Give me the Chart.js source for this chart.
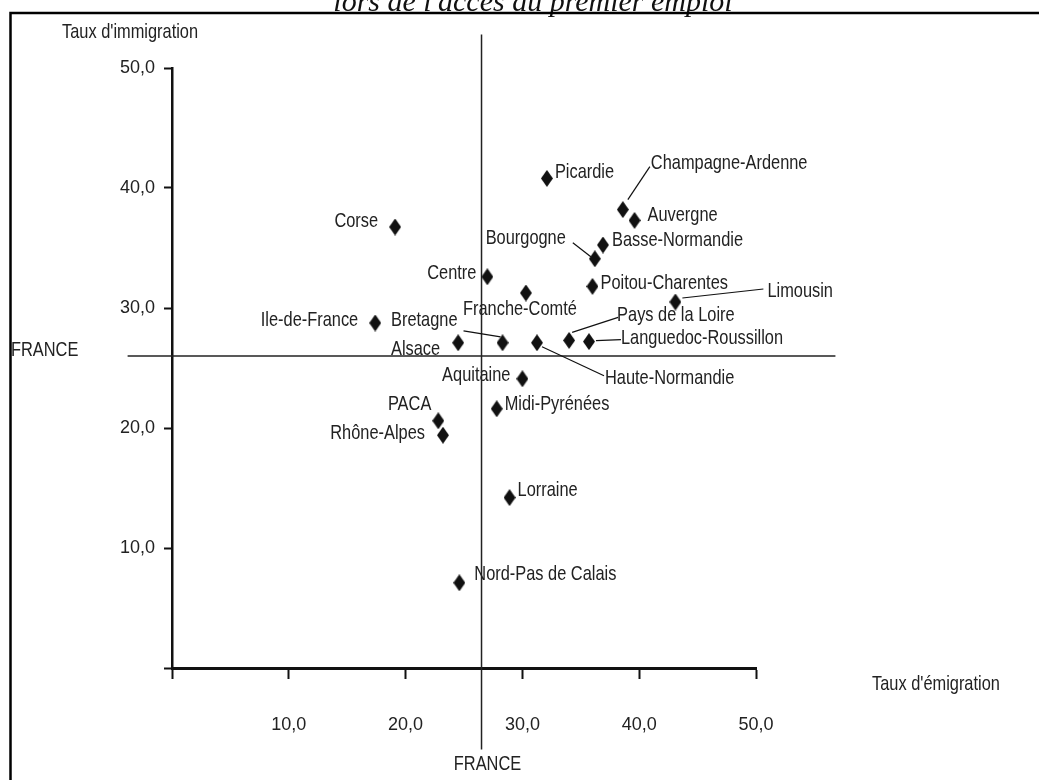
<!DOCTYPE html>
<html>
<head>
<meta charset="utf-8">
<script src="https://cdn.jsdelivr.net/npm/chart.js@4.4.0/dist/chart.umd.min.js"></script>
<style>
html, body { margin: 0; padding: 0; background: #fff; }
#wrap { position: relative; width: 1039px; height: 780px; }
</style>
</head>
<body>
<div id="wrap"><canvas id="mobilite"></canvas></div>
<script>
"use strict";

// regions, taux d'emigration (x) and taux d'immigration (y)
var regions = [
    'Picardie', 'Champagne-Ardenne', 'Auvergne', 'Corse', 'Basse-Normandie',
    'Bourgogne', 'Centre', 'Poitou-Charentes', 'Franche-Comté', 'Limousin',
    'Ile-de-France', 'Pays de la Loire', 'Languedoc-Roussillon', 'Alsace',
    'Bretagne', 'Haute-Normandie', 'Aquitaine', 'Midi-Pyrénées', 'PACA',
    'Rhône-Alpes', 'Lorraine', 'Nord-Pas de Calais'
];
var emigration = [
    32.1, 38.6, 39.6, 19.1, 36.9,
    36.2, 27.0, 36.0, 30.3, 43.1,
    17.4, 34.0, 35.7, 24.5,
    28.3, 31.25, 30.0, 27.8, 22.8,
    23.2, 28.9, 24.6
];
var immigration = [
    40.8, 38.2, 37.3, 36.75, 35.25,
    34.1, 32.6, 31.8, 31.25, 30.5,
    28.75, 27.3, 27.2, 27.1,
    27.1, 27.1, 24.1, 21.6, 20.6,
    19.4, 14.2, 7.1
];

// moyenne France
var franceEmigration = 26.5;
var franceImmigration = 26.0;
var franceSpanX = [-3.8, 56.8];
var franceSpanY = [-6.8, 52.8];

var tickValues = [0, 10, 20, 30, 40, 50];

var textFont = "21px 'Liberation Sans', Arial, sans-serif";
var tickFont = "'Liberation Sans', Arial, sans-serif";

// label placement, pixel offsets from the point
var labelLayout = {
    'Picardie':            { dx: 8,   dy: -6,  align: 'left' },
    'Champagne-Ardenne':   { dx: 28,  dy: -46, align: 'left',   lead: [5, -10, 27, -43] },
    'Auvergne':            { dx: 13,  dy: -5,  align: 'left' },
    'Corse':               { dx: -17, dy: -6,  align: 'right' },
    'Basse-Normandie':     { dx: 9,   dy: -5,  align: 'left' },
    'Bourgogne':           { dx: -29, dy: -21, align: 'right',  lead: [-22, -16, -4, -2] },
    'Centre':              { dx: -11, dy: -4,  align: 'right' },
    'Poitou-Charentes':    { dx: 8,   dy: -3,  align: 'left' },
    'Franche-Comté':       { dx: -6,  dy: 16,  align: 'center' },
    'Limousin':            { dx: 92,  dy: -11, align: 'left',   lead: [7, -4, 88, -13] },
    'Ile-de-France':       { dx: -17, dy: -3,  align: 'right' },
    'Pays de la Loire':    { dx: 48,  dy: -25, align: 'left',   lead: [3, -8, 49, -23] },
    'Languedoc-Roussillon':{ dx: 32,  dy: -3,  align: 'left',   lead: [7, -1, 32, -2] },
    'Alsace':              { dx: -18, dy: 6,   align: 'right' },
    'Bretagne':            { dx: -45, dy: -23, align: 'right',  lead: [-39, -12, -2, -6] },
    'Haute-Normandie':     { dx: 68,  dy: 35,  align: 'left',   lead: [5, 4, 67, 33] },
    'Aquitaine':           { dx: -12, dy: -4,  align: 'right' },
    'Midi-Pyrénées':       { dx: 8,   dy: -5,  align: 'left' },
    'PACA':                { dx: -7,  dy: -17, align: 'right' },
    'Rhône-Alpes':         { dx: -18, dy: -2,  align: 'right' },
    'Lorraine':            { dx: 8,   dy: -7,  align: 'left' },
    'Nord-Pas de Calais':  { dx: 15,  dy: -9,  align: 'left' }
};

function diamond () {
    var c = document.createElement('canvas');
    c.width = 12;
    c.height = 17;
    var g = c.getContext('2d');
    g.fillStyle = '#111';
    g.beginPath();
    g.moveTo(6, 0);
    g.lineTo(12, 8.5);
    g.lineTo(6, 17);
    g.lineTo(0, 8.5);
    g.closePath();
    g.fill();
    return c;
}

function virgule (v) {
    if (v === 0) return '';
    return v.toFixed(1).replace('.', ',');
}

// arial narrow look: squeeze the text horizontally
function narrowText (ctx, text, x, y, align) {
    ctx.save();
    ctx.translate(x, y);
    ctx.scale(0.78, 1);
    ctx.textAlign = align;
    ctx.fillText(text, 0, 0);
    ctx.restore();
}

var points = [];
for (var i = 0; i < regions.length; i++) {
    points.push({ x: emigration[i], y: immigration[i], label: regions[i] });
}

var decor = {
    id: 'decor',
    afterDraw: function (chart) {
        var ctx = chart.ctx;
        var xs = chart.scales.x;
        var ys = chart.scales.y;
        ctx.save();

        // titre (coupe en haut)
        ctx.fillStyle = '#111';
        ctx.font = "italic 30px 'Liberation Serif', serif";
        ctx.textAlign = 'center';
        ctx.textBaseline = 'alphabetic';
        ctx.fillText("lors de l'accès au premier emploi", 533, 11);

        // cadre
        ctx.strokeStyle = '#000';
        ctx.lineWidth = 2.5;
        ctx.beginPath();
        ctx.moveTo(10.5, 790);
        ctx.lineTo(10.5, 13);
        ctx.lineTo(1045, 13);
        ctx.stroke();

        ctx.font = textFont;
        ctx.fillStyle = '#222';
        ctx.textBaseline = 'middle';

        narrowText(ctx, "Taux d'immigration", 62, 32, 'left');
        narrowText(ctx, "Taux d'émigration", 872, 684, 'left');
        narrowText(ctx, 'FRANCE', 11, 350, 'left');
        narrowText(ctx, 'FRANCE', xs.getPixelForValue(franceEmigration) + 6, 764, 'center');

        // etiquettes des regions
        ctx.strokeStyle = '#111';
        ctx.lineWidth = 1.2;
        points.forEach(function (p) {
            var px = xs.getPixelForValue(p.x);
            var py = ys.getPixelForValue(p.y);
            var lay = labelLayout[p.label];
            if (lay.lead) {
                ctx.beginPath();
                ctx.moveTo(px + lay.lead[0], py + lay.lead[1]);
                ctx.lineTo(px + lay.lead[2], py + lay.lead[3]);
                ctx.stroke();
            }
            narrowText(ctx, p.label, px + lay.dx, py + lay.dy, lay.align);
        });

        ctx.restore();
    }
};

var ctx = document.getElementById('mobilite');

var myScatter = new Chart(ctx, {
    type: 'scatter',
    data: {
        datasets: [
            {
                label: 'Régions',
                data: points,
                pointStyle: diamond(),
                pointRadius: 6,
                order: 0
            },
            {
                label: 'France (vertical)',
                type: 'line',
                data: [{ x: franceEmigration, y: franceSpanY[0] }, { x: franceEmigration, y: franceSpanY[1] }],
                borderColor: '#222',
                borderWidth: 1.5,
                pointRadius: 0,
                clip: false,
                order: 1
            },
            {
                label: 'France (horizontal)',
                type: 'line',
                data: [{ x: franceSpanX[0], y: franceImmigration }, { x: franceSpanX[1], y: franceImmigration }],
                borderColor: '#222',
                borderWidth: 1.5,
                pointRadius: 0,
                clip: false,
                order: 1
            }
        ]
    },
    options: {
        responsive: true,
        maintainAspectRatio: false,
        animation: false,
        layout: { padding: { top: 68, right: 283, left: 0, bottom: 0 } },
        plugins: {
            legend: { display: false },
            tooltip: { enabled: false },
            title: { display: false }
        },
        scales: {
            x: {
                type: 'linear',
                min: 0,
                max: 50,
                afterFit: function (scale) { scale.height = 112; },
                afterBuildTicks: function (scale) {
                    scale.ticks = tickValues.map(function (v) { return { value: v }; });
                },
                border: { display: true, color: '#111', width: 3 },
                grid: { drawOnChartArea: false, drawTicks: true, tickLength: 11, tickColor: '#111', tickWidth: 2 },
                ticks: {
                    padding: 35,
                    maxRotation: 0,
                    autoSkip: false,
                    color: '#222',
                    font: { family: tickFont, size: 18 },
                    callback: virgule
                }
            },
            y: {
                type: 'linear',
                min: 0,
                max: 50,
                afterFit: function (scale) { scale.width = 172; },
                afterBuildTicks: function (scale) {
                    scale.ticks = tickValues.map(function (v) { return { value: v }; });
                },
                border: { display: true, color: '#111', width: 2.5 },
                grid: { drawOnChartArea: false, drawTicks: true, tickLength: 8, tickColor: '#111', tickWidth: 2 },
                ticks: {
                    padding: 9,
                    autoSkip: false,
                    color: '#222',
                    font: { family: tickFont, size: 18 },
                    callback: virgule
                }
            }
        }
    },
    plugins: [decor]
});
</script>
</body>
</html>
